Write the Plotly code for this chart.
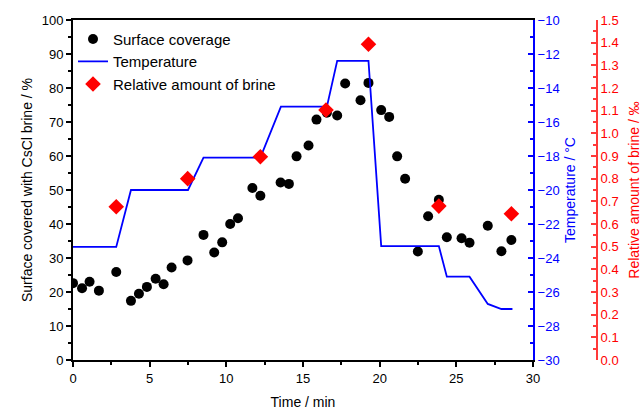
import plotly.graph_objects as go

# Surface coverage (black circles), left axis, %
time_cov = [0.0, 0.59, 1.08, 1.69, 2.82, 3.78, 4.30, 4.82, 5.39, 5.91, 6.43, 7.47,
            8.51, 9.21, 9.73, 10.25, 10.76, 11.70, 12.22, 13.54, 14.08, 14.58, 15.36,
            15.88, 16.56, 17.23, 17.75, 18.75, 19.27, 20.10, 20.62, 21.14, 21.66,
            22.49, 23.16, 23.86, 24.38, 25.34, 25.86, 27.05, 27.94, 28.59]
coverage = [22.6, 21.1, 23.0, 20.4, 25.9, 17.4, 19.5, 21.5, 23.9, 22.3, 27.2, 29.3,
            36.8, 31.6, 34.6, 40.0, 41.7, 50.6, 48.3, 52.2, 51.8, 59.9, 63.1,
            70.7, 72.7, 71.9, 81.3, 76.4, 81.5, 73.5, 71.5, 59.9, 53.3,
            31.9, 42.3, 47.1, 36.1, 35.8, 34.5, 39.5, 32.0, 35.3]

# Temperature (blue line), right axis, °C
time_temp = [0.0, 2.82, 3.78, 7.50, 8.51, 12.22, 13.56, 16.56, 17.23, 19.27,
             20.10, 23.86, 24.38, 25.86, 27.05, 27.94, 28.66]
temperature = [-23.35, -23.35, -20.0, -20.0, -18.1, -18.1, -15.1, -15.1, -12.4, -12.4,
               -23.3, -23.3, -25.1, -25.1, -26.7, -27.0, -27.0]

# Relative amount of brine (red diamonds), outer right axis, ‰
time_brine = [2.82, 7.48, 12.22, 16.5, 19.27, 23.86, 28.59]
brine = [0.676, 0.80, 0.897, 1.103, 1.393, 0.679, 0.645]

FONT = "Liberation Sans"
BLUE = "#0000ff"
RED = "#ff0000"
RED_AX = "#ff3a3a"
XDOM_END = 460 / 524

fig = go.Figure()
fig.add_trace(go.Scatter(x=time_cov, y=coverage, mode="markers", name="Surface coverage",
                         marker=dict(symbol="circle", size=10, color="black"), yaxis="y"))
fig.add_trace(go.Scatter(x=time_temp, y=temperature, mode="lines", name="Temperature",
                         line=dict(color=BLUE, width=1.8), yaxis="y2"))
fig.add_trace(go.Scatter(x=time_brine, y=brine, mode="markers", name="Relative amount of brine",
                         marker=dict(symbol="diamond", size=12, color=RED), yaxis="y3"))

fig.update_layout(
    width=643, height=410,
    margin=dict(l=73, r=46, t=20, b=50, autoexpand=False),
    paper_bgcolor="white", plot_bgcolor="white",
    font=dict(family=FONT, size=13, color="black"),
    showlegend=True,
    legend=dict(x=0.0, y=0.992, xanchor="left", yanchor="top", bgcolor="rgba(0,0,0,0)",
                font=dict(size=15, family=FONT), tracegroupgap=0, itemwidth=30,
                borderwidth=0),
    xaxis=dict(domain=[0, XDOM_END], range=[0, 30], dtick=5, tick0=0, automargin=False,
               showline=True, linecolor="black", linewidth=2, mirror=True,
               ticks="outside", ticklen=5, tickwidth=1.5, tickcolor="black",
               minor=dict(ticks="outside", ticklen=3, dtick=2.5, tickcolor="black", tickwidth=1.5),
               showgrid=False, zeroline=False,
               title=dict(text="Time / min", font=dict(size=14), standoff=13)),
    yaxis=dict(range=[0, 100], dtick=10, tick0=0, automargin=False,
               showline=True, linecolor="black", linewidth=2,
               ticks="outside", ticklen=5, tickwidth=1.5, tickcolor="black",
               minor=dict(ticks="outside", ticklen=3, dtick=5, tickcolor="black", tickwidth=1.5),
               showgrid=False, zeroline=False,
               title=dict(text="Surface covered with CsCl brine / %", font=dict(size=14), standoff=6)),
    yaxis2=dict(overlaying="y", side="right", anchor="x", range=[-30, -10], dtick=2, tick0=-30,
                automargin=False,
                showline=True, linecolor=BLUE, linewidth=2,
                ticks="inside", ticklen=5, tickwidth=1.5, tickcolor=BLUE,
                minor=dict(ticks="inside", ticklen=3, dtick=1, tickcolor=BLUE, tickwidth=1.5),
                tickfont=dict(color=BLUE), showgrid=False, zeroline=False,
                title=dict(text="Temperature / °C", font=dict(size=14, color=BLUE), standoff=7)),
    yaxis3=dict(overlaying="y", side="right", anchor="free", position=1.0,
                range=[0, 1.5], dtick=0.1, tick0=0, tickformat=".1f", automargin=False,
                showline=True, linecolor=RED_AX, linewidth=2,
                ticks="inside", ticklen=5, tickwidth=1.5, tickcolor=RED_AX,
                minor=dict(ticks="inside", ticklen=3, dtick=0.05, tickcolor=RED_AX, tickwidth=1.5),
                tickfont=dict(color=RED), showgrid=False, zeroline=False,
                title=dict(text="Relative amount of brine / ‰", font=dict(size=14, color=RED), standoff=11)),
)

fig.write_html("out.html", config={"displayModeBar": False},
               post_script="document.body.style.margin='0';")
